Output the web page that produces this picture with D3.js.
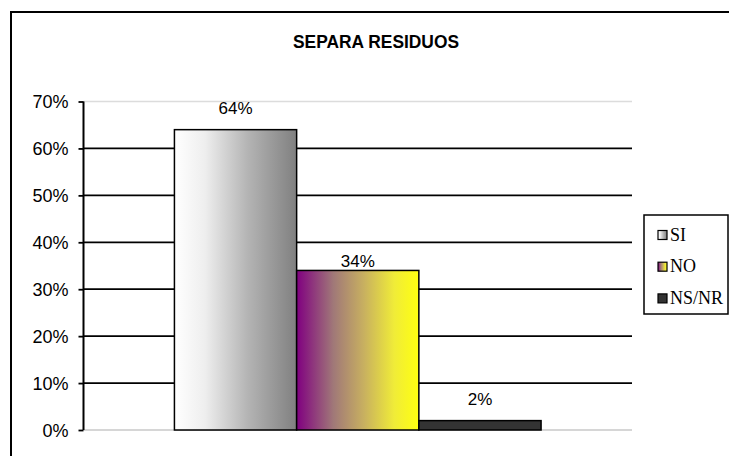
<!DOCTYPE html>
<html><head><meta charset="utf-8">
<script src="https://cdn.jsdelivr.net/npm/d3@7/dist/d3.min.js"></script>
<style>html,body{margin:0;padding:0;background:#fff;}svg{display:block;}</style>
</head><body>
<script>
const title = "SEPARA RESIDUOS";
const series = ["SI", "NO", "NS/NR"];
const values = [0.64, 0.34, 0.02];
const valueLabels = ["64%", "34%", "2%"];
const yTicks = [0, 0.1, 0.2, 0.3, 0.4, 0.5, 0.6, 0.7];
const yTickLabels = ["0%", "10%", "20%", "30%", "40%", "50%", "60%", "70%"];

const W = 729, H = 456;
const svg = d3.select("body").append("svg").attr("width", W).attr("height", H);
const defs = svg.append("defs");

// gradients
const grads = [
  [["0%", "#ffffff"], ["25%", "#eeeeee"], ["60%", "#b4b4b4"], ["100%", "#808080"]],
  [["0%", "#800080"], ["30%", "#a07878"], ["55%", "#c8b060"], ["80%", "#f0ec38"], ["100%", "#ffff10"]],
  [["0%", "#333333"], ["100%", "#333333"]]
];
grads.forEach((stops, i) => {
  const g = defs.append("linearGradient").attr("id", "g" + i)
    .attr("x1", "0%").attr("x2", "100%").attr("y1", "0%").attr("y2", "0%");
  stops.forEach(s => g.append("stop").attr("offset", s[0]).attr("stop-color", s[1]));
});

// outer frame
svg.append("rect").attr("x", 11).attr("y", 12).attr("width", 740).attr("height", 470)
  .attr("fill", "#fff").attr("stroke", "#000").attr("stroke-width", 2);

const plotL = 83.5, plotR = 632, plotT = 101.5, plotB = 430;
const y = d3.scaleLinear().domain([0, 0.7]).range([plotB, plotT]);
const x = d3.scaleBand().domain(series).range([plotL, plotR]).paddingInner(0).paddingOuter(0.744);

// gridlines
const g = svg.append("g");
g.selectAll("line.grid").data(yTicks).join("line")
  .attr("x1", plotL).attr("x2", plotR)
  .attr("y1", d => y(d)).attr("y2", d => y(d))
  .attr("stroke", (d, i) => (i === 0 ? "#c8c8c8" : i === yTicks.length - 1 ? "#dcdcdc" : "#000"))
  .attr("stroke-width", (d, i) => (i === 0 || i === yTicks.length - 1) ? 1.5 : 1.8);

// y axis
const yAxis = d3.axisLeft(y).tickValues(yTicks).tickFormat((d, i) => yTickLabels[i]).tickSize(5).tickPadding(10);
const ya = svg.append("g").attr("transform", `translate(${plotL},0)`).call(yAxis);
ya.select(".domain").attr("stroke", "#000").attr("stroke-width", 2).attr("d", `M0,${plotT}V${plotB}`);
ya.selectAll(".tick line").attr("stroke", "#000").attr("stroke-width", 1.8);
ya.selectAll(".tick text").attr("font-family", "Liberation Sans, Arial, sans-serif")
  .attr("font-size", 18).attr("fill", "#000").attr("dy", "0.36em");

// bars
svg.append("g").selectAll("rect").data(series).join("rect")
  .attr("x", d => x(d)).attr("width", x.bandwidth())
  .attr("y", (d, i) => y(values[i])).attr("height", (d, i) => y(0) - y(values[i]))
  .attr("fill", (d, i) => `url(#g${i})`).attr("stroke", "#000").attr("stroke-width", 1.5);

// value labels
const labelDy = [16, 3, 16];
svg.append("g").selectAll("text").data(series).join("text")
  .attr("x", d => x(d) + x.bandwidth() / 2)
  .attr("y", (d, i) => y(values[i]) - labelDy[i])
  .attr("text-anchor", "middle")
  .attr("font-family", "Liberation Sans, Arial, sans-serif").attr("font-size", 17)
  .text((d, i) => valueLabels[i]);

// title
svg.append("text").attr("x", 376).attr("y", 48).attr("text-anchor", "middle")
  .attr("font-family", "Liberation Sans, Arial, sans-serif").attr("font-weight", "bold")
  .attr("font-size", 19).attr("textLength", 166).attr("lengthAdjust", "spacingAndGlyphs")
  .text(title);

// legend
svg.append("rect").attr("x", 644).attr("y", 215).attr("width", 84).attr("height", 99)
  .attr("fill", "#fff").attr("stroke", "#000").attr("stroke-width", 1.5);
const leg = svg.append("g").selectAll("g").data(series).join("g")
  .attr("transform", (d, i) => `translate(658,${235 + i * 31.7})`);
leg.append("rect").attr("x", 0).attr("y", -4.5).attr("width", 9).attr("height", 9)
  .attr("fill", (d, i) => `url(#g${i})`).attr("stroke", "#000").attr("stroke-width", 1.2);
leg.append("text").attr("x", 12).attr("y", 5.5)
  .attr("font-family", "Liberation Serif, Times New Roman, serif").attr("font-size", 18)
  .text(d => d);
</script>
</body></html>
